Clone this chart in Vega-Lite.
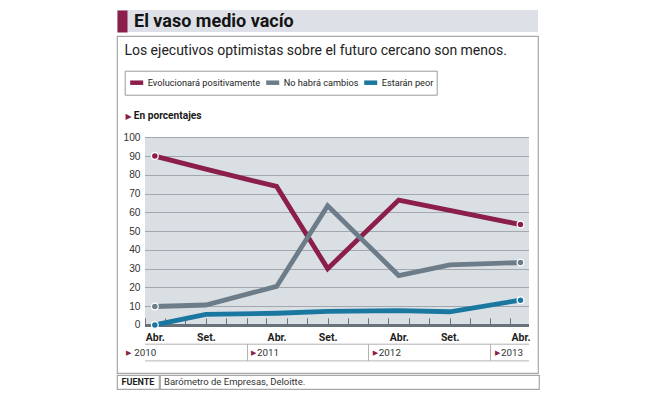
{
  "$schema": "https://vega.github.io/schema/vega-lite/v6.json",
  "padding": {"left": 116, "top": 10, "right": 4, "bottom": 4},
  "background": "white",
  "spacing": 3,
  "config": {
    "view": {"stroke": null},
    "font": "Roboto"
  },
  "vconcat": [
    {
      "width": 421,
      "height": 22,
      "view": {"fill": "#dde1e7", "stroke": null},
      "data": {"values": [{"titulo": "El vaso medio vacío"}]},
      "mark": {"type": "text", "align": "left", "baseline": "middle", "dx": 17, "dy": 1, "font": "Roboto", "fontWeight": "bold", "fontSize": 18, "color": "#141414"},
      "encoding": {
        "text": {"field": "titulo"},
        "x": {"datum": 0, "type": "quantitative", "scale": {"domain": [0, 1]}, "axis": null},
        "y": {"datum": 0.5, "type": "quantitative", "scale": {"domain": [0, 1]},
          "axis": {"orient": "left", "offset": -5, "domain": true, "domainColor": "#8b1e4b", "domainWidth": 10, "ticks": false, "labels": false, "grid": false, "title": null}}
      }
    },
    {
      "spacing": 0,
      "vconcat": [
        {
          "width": 421,
          "height": 337,
          "view": {"stroke": "#a8a8a8", "strokeWidth": 1.2, "fill": "white"},
          "data": {
            "values": [
              {"serie": "Evolucionará positivamente", "fecha": "2010-04-01", "valor": 90},
              {"serie": "Evolucionará positivamente", "fecha": "2010-09-01", "valor": 83},
              {"serie": "Evolucionará positivamente", "fecha": "2011-04-01", "valor": 73.8},
              {"serie": "Evolucionará positivamente", "fecha": "2011-09-01", "valor": 30},
              {"serie": "Evolucionará positivamente", "fecha": "2012-04-01", "valor": 66.5},
              {"serie": "Evolucionará positivamente", "fecha": "2012-09-01", "valor": 61},
              {"serie": "Evolucionará positivamente", "fecha": "2013-04-01", "valor": 53.5},
              {"serie": "No habrá cambios", "fecha": "2010-04-01", "valor": 9.8},
              {"serie": "No habrá cambios", "fecha": "2010-09-01", "valor": 10.6},
              {"serie": "No habrá cambios", "fecha": "2011-04-01", "valor": 20.5},
              {"serie": "No habrá cambios", "fecha": "2011-09-01", "valor": 63.5},
              {"serie": "No habrá cambios", "fecha": "2012-04-01", "valor": 26.3},
              {"serie": "No habrá cambios", "fecha": "2012-09-01", "valor": 32},
              {"serie": "No habrá cambios", "fecha": "2013-04-01", "valor": 33.2},
              {"serie": "Estarán peor", "fecha": "2010-04-01", "valor": 0},
              {"serie": "Estarán peor", "fecha": "2010-09-01", "valor": 5.6},
              {"serie": "Estarán peor", "fecha": "2011-04-01", "valor": 6.2},
              {"serie": "Estarán peor", "fecha": "2011-09-01", "valor": 7.2},
              {"serie": "Estarán peor", "fecha": "2012-04-01", "valor": 7.6},
              {"serie": "Estarán peor", "fecha": "2012-09-01", "valor": 7},
              {"serie": "Estarán peor", "fecha": "2013-04-01", "valor": 13.2}
            ],
            "format": {"parse": {"fecha": "utc:'%Y-%m-%d'"}}
          },
          "resolve": {"axis": {"x": "independent", "y": "independent"}},
          "layer": [
            {
              "mark": {"type": "line", "strokeWidth": 4.8, "strokeJoin": "miter", "strokeCap": "butt"},
              "encoding": {
                "x": {"field": "fecha", "type": "temporal",
                  "scale": {"type": "utc", "domain": [{"year": 2010, "month": 3, "date": 1, "utc": true}, {"year": 2013, "month": 4, "date": 25, "utc": true}], "range": [27.5, 411.5], "nice": false},
                  "axis": {
                    "orient": "bottom", "offset": -48.1,
                    "tickCount": {"interval": "month", "step": 1},
                    "labelExpr": "utcmonth(datum.value) == 3 ? 'Abr.' : (utcmonth(datum.value) == 8 ? 'Set.' : '')",
                    "labelOverlap": false, "labelFlush": false, "labelBound": false,
                    "domain": true, "domainColor": "#69727a", "domainWidth": 3,
                    "ticks": true, "tickSize": -7, "tickColor": "#69727a", "tickWidth": 1,
                    "tickOpacity": {"condition": {"test": "utcmonth(datum.value) % 2 == 0", "value": 1}, "value": 0},
                    "labelPadding": 22.2, "labelBaseline": "alphabetic",
                    "labelFont": "Roboto", "labelFontWeight": "bold", "labelFontSize": 10.5, "labelColor": "#1e1e1e",
                    "grid": false,
                    "title": "Los ejecutivos optimistas sobre el futuro cercano son menos.",
                    "titleX": 6.9, "titleY": -270, "titleAlign": "left", "titleBaseline": "alphabetic",
                    "titleFont": "Roboto", "titleFontSize": 14, "titleFontWeight": "normal", "titleColor": "#222"
                  }
                },
                "y": {"field": "valor", "type": "quantitative",
                  "scale": {"domain": [0, 100], "range": [288.9, 101.3], "nice": false, "zero": false},
                  "axis": {"orient": "left", "values": [50], "grid": true, "gridWidth": 187.6, "gridColor": "#dadfe4", "gridOpacity": 1,
                    "domain": false, "ticks": false, "labels": false, "title": null}
                },
                "color": {"field": "serie", "type": "nominal",
                  "scale": {"domain": ["Evolucionará positivamente", "No habrá cambios", "Estarán peor"], "range": ["#8b1e4b", "#6c7c89", "#1a78a0"]},
                  "legend": {
                    "orient": "none", "legendX": 7.7, "legendY": 60.7, "direction": "horizontal", "title": null,
                    "symbolType": "M-1,0L1,0", "symbolSize": 169, "symbolStrokeWidth": 4.5,
                    "labelFont": "Roboto", "labelFontSize": 9.2, "labelColor": "#222", "labelOffset": 2,
                    "columnPadding": -4, "padding": 3, "strokeColor": "#9a9a9a"
                  }
                }
              }
            },
            {
              "transform": [{"filter": "utcyear(datum.fecha) == 2010 && utcmonth(datum.fecha) == 3"}],
              "mark": {"type": "point", "filled": true, "size": 45, "stroke": "white", "strokeWidth": 1.2, "opacity": 1},
              "encoding": {
                "x": {"field": "fecha", "type": "temporal",
                  "axis": {
                    "orient": "bottom", "offset": -12.6,
                    "values": [{"year": 2010, "month": 3, "date": 1, "utc": true}, {"year": 2011, "month": 1, "date": 1, "utc": true}, {"year": 2012, "month": 1, "date": 1, "utc": true}, {"year": 2013, "month": 1, "date": 1, "utc": true}],
                    "labelExpr": "'' + utcyear(datum.value)",
                    "domain": true, "domainColor": "#b3b3b3", "domainWidth": 1,
                    "ticks": true, "tickSize": -17, "tickColor": "#b3b3b3", "tickWidth": 1,
                    "tickOpacity": {"condition": {"test": "utcyear(datum.value) == 2010", "value": 0}, "value": 1},
                    "labelAlign": "left", "labelBaseline": "middle",
                    "labelOffset": {"condition": {"test": "utcyear(datum.value) == 2010", "value": -10.7}, "value": 10},
                    "labelPadding": 8.6,
                    "labelFont": "Roboto", "labelFontSize": 9.8, "labelColor": "#333", "labelOverlap": false, "labelFlush": false, "labelBound": false,
                    "grid": false, "title": null
                  }
                },
                "y": {"field": "valor", "type": "quantitative",
                  "axis": {
                    "orient": "left", "offset": -27.5,
                    "values": [0, 10, 20, 30, 40, 50, 60, 70, 80, 90, 100],
                    "grid": true, "gridColor": "#a2a8ae", "gridWidth": 1,
                    "domain": false, "ticks": false, "labelPadding": 4.5,
                    "labelFont": "Liberation Sans", "labelFontSize": 10.2, "labelColor": "#333",
                    "title": "En porcentajes", "titleAngle": 0, "titleAlign": "left", "titleBaseline": "alphabetic",
                    "titleX": -11.3, "titleY": 82.4, "titleFont": "Roboto", "titleFontWeight": "bold", "titleFontSize": 10.2, "titleColor": "#1a1a1a"
                  }
                },
                "fill": {"field": "serie", "type": "nominal",
                  "scale": {"domain": ["Evolucionará positivamente", "No habrá cambios", "Estarán peor"], "range": ["#8b1e4b", "#6c7c89", "#1a78a0"]},
                  "legend": null}
              }
            },
            {
              "transform": [{"filter": "utcyear(datum.fecha) == 2013"}],
              "mark": {"type": "point", "filled": true, "size": 45, "stroke": "white", "strokeWidth": 1.2, "opacity": 1},
              "encoding": {
                "x": {"field": "fecha", "type": "temporal",
                  "axis": {
                    "orient": "bottom", "offset": -29.3,
                    "values": [{"year": 2010, "month": 3, "date": 1, "utc": true}, {"year": 2011, "month": 1, "date": 1, "utc": true}, {"year": 2012, "month": 1, "date": 1, "utc": true}, {"year": 2013, "month": 1, "date": 1, "utc": true}],
                    "labelExpr": "'▶'",
                    "domain": true, "domainColor": "#b3b3b3", "domainWidth": 1,
                    "ticks": false, "tickSize": 0,
                    "labelAlign": "left", "labelBaseline": "middle",
                    "labelOffset": {"condition": {"test": "utcyear(datum.value) == 2010", "value": -19}, "value": 4},
                    "labelPadding": 8.4,
                    "labelFont": "DejaVu Sans", "labelFontSize": 7, "labelColor": "#8b1e4b",
                    "labelOverlap": false, "labelFlush": false, "labelBound": false,
                    "grid": false, "title": null
                  }
                },
                "y": {"field": "valor", "type": "quantitative",
                  "axis": {
                    "orient": "left", "offset": -27.5, "domain": false, "ticks": false, "labels": false, "grid": false,
                    "title": "▶", "titleAngle": 0, "titleAlign": "left", "titleBaseline": "alphabetic",
                    "titleX": -19.6, "titleY": 82.4, "titleFont": "DejaVu Sans", "titleFontSize": 8, "titleColor": "#8b1e4b"
                  }
                },
                "fill": {"field": "serie", "type": "nominal", "legend": null}
              }
            }
          ]
        },
        {
          "spacing": -1.2,
          "hconcat": [
            {
              "width": 42,
              "height": 14,
              "view": {"stroke": "#a8a8a8", "strokeWidth": 1.2},
              "data": {"values": [{"etiqueta": "FUENTE"}]},
              "mark": {"type": "text", "baseline": "middle", "font": "Roboto", "fontWeight": "bold", "fontSize": 9, "color": "#1e1e1e"},
              "encoding": {"text": {"field": "etiqueta"}}
            },
            {
              "width": 379,
              "height": 14,
              "view": {"stroke": "#a8a8a8", "strokeWidth": 1.2},
              "data": {"values": [{"fuente": "Barómetro de Empresas, Deloitte."}]},
              "mark": {"type": "text", "align": "left", "baseline": "middle", "dx": 4, "font": "Roboto", "fontSize": 9.5, "color": "#333"},
              "encoding": {
                "text": {"field": "fuente"},
                "x": {"datum": 0, "type": "quantitative", "scale": {"domain": [0, 1]}, "axis": null}
              }
            }
          ]
        }
      ]
    }
  ]
}
